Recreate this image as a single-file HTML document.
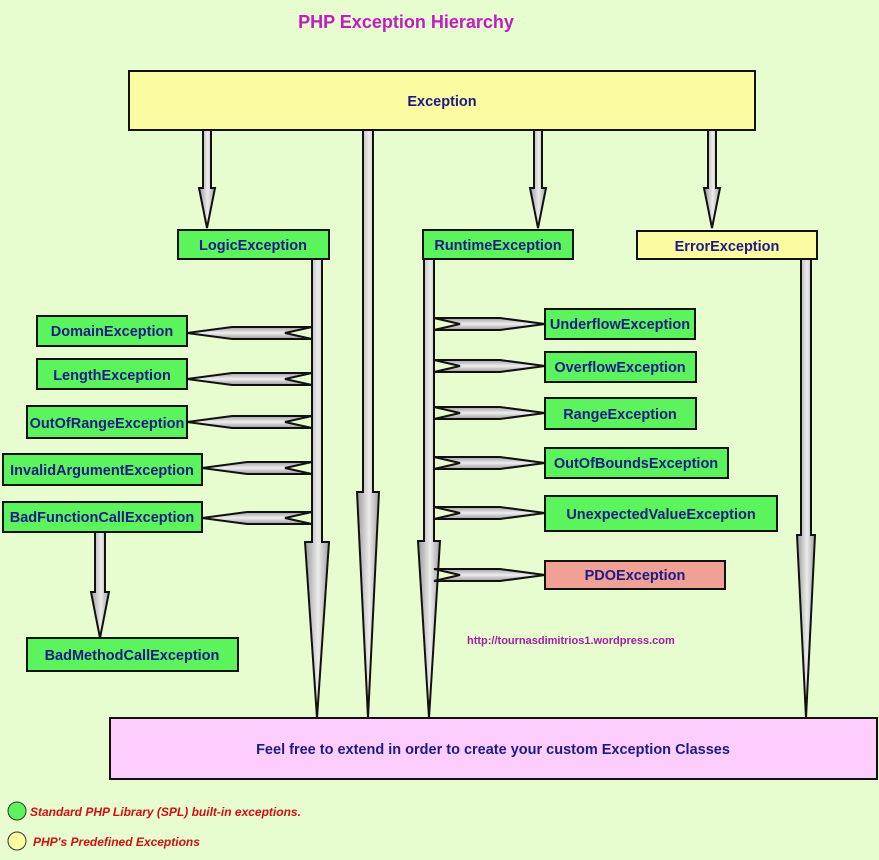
<!DOCTYPE html>
<html><head><meta charset="utf-8"><style>
html,body{margin:0;padding:0;background:#e8fdcf;}
svg{display:block;}
text{font-family:"Liberation Sans",sans-serif;font-weight:bold;}
</style></head><body>
<svg width="879" height="860" viewBox="0 0 879 860" xmlns="http://www.w3.org/2000/svg">
<defs>
<linearGradient id="gv" x1="0" y1="0" x2="1" y2="0"><stop offset="0" stop-color="#9a9a9a"/><stop offset="0.55" stop-color="#ececec"/><stop offset="1" stop-color="#a0a0a0"/></linearGradient>
<linearGradient id="gh" x1="0" y1="0" x2="0" y2="1"><stop offset="0" stop-color="#a0a0a0"/><stop offset="0.5" stop-color="#eeeeee"/><stop offset="1" stop-color="#9a9a9a"/></linearGradient>
</defs>
<rect width="879" height="860" fill="#e8fdcf"/>
<text x="406" y="28" text-anchor="middle" font-size="18" fill="#c01cc0">PHP Exception Hierarchy</text>

<g stroke="#111" stroke-width="2" fill="url(#gv)" stroke-linejoin="miter">
<polygon points="203,130 211,130 211,188 215,188 207,228 199,188 203,188"/>
<polygon points="363,130 373,130 373,492 379,492 368,718 357,492 363,492"/>
<polygon points="534,130 542,130 542,188 546,188 538,228 530,188 534,188"/>
<polygon points="708,130 716,130 716,188 720,188 712,228 704,188 708,188"/>
<polygon points="312,259 322,259 322,542 329,542 317,718 305,542 312,542"/>
<polygon points="424,259 434,259 434,541 440,541 429,718 418,541 424,541"/>
<polygon points="801,259 811,259 811,535 815,535 806,718 797,535 801,535"/>
<polygon points="95,532 105,532 105,592 109,592 100,638 91,592 95,592"/>
</g>
<g stroke="#111" stroke-width="2" fill="url(#gh)">
<polygon points="187,333 232,327 312,327 285,333 312,339 232,339"/>
<polygon points="187,379 232,373 312,373 285,379 312,385 232,385"/>
<polygon points="187,422 232,416 312,416 285,422 312,428 232,428"/>
<polygon points="202,468 247,462 312,462 285,468 312,474 247,474"/>
<polygon points="202,518 247,512 312,512 285,518 312,524 247,524"/>
<polygon points="434,318 500,318 545,324 500,330 434,330 460,324"/>
<polygon points="434,360 500,360 545,366 500,372 434,372 460,366"/>
<polygon points="434,407 500,407 545,413 500,419 434,419 460,413"/>
<polygon points="434,457 500,457 545,463 500,469 434,469 460,463"/>
<polygon points="434,507 500,507 545,513 500,519 434,519 460,513"/>
<polygon points="434,569 500,569 545,575 500,581 434,581 460,575"/>
</g>

<g stroke="#111" stroke-width="2">
<rect x="129" y="71" width="626" height="59" fill="#fbfba2"/>
<rect x="178" y="230" width="151" height="29" fill="#5cf45c"/>
<rect x="423" y="230" width="150" height="29" fill="#5cf45c"/>
<rect x="637" y="231" width="180" height="28" fill="#fbfba2"/>
<rect x="37" y="316" width="150" height="30" fill="#5cf45c"/>
<rect x="37" y="359" width="150" height="30" fill="#5cf45c"/>
<rect x="27" y="406" width="160" height="32" fill="#5cf45c"/>
<rect x="3" y="454" width="199" height="31" fill="#5cf45c"/>
<rect x="3" y="502" width="199" height="30" fill="#5cf45c"/>
<rect x="27" y="638" width="211" height="33" fill="#5cf45c"/>
<rect x="545" y="309" width="150" height="30" fill="#5cf45c"/>
<rect x="545" y="352" width="151" height="30" fill="#5cf45c"/>
<rect x="545" y="398" width="151" height="31" fill="#5cf45c"/>
<rect x="545" y="448" width="183" height="30" fill="#5cf45c"/>
<rect x="545" y="496" width="232" height="35" fill="#5cf45c"/>
<rect x="545" y="561" width="180" height="28" fill="#f0a094"/>
<rect x="110" y="718" width="767" height="61" fill="#fdcdfd"/>
</g>

<g font-size="14.5" fill="#1b1b86" text-anchor="middle">
<text x="442" y="106">Exception</text>
<text x="253" y="250">LogicException</text>
<text x="498" y="250">RuntimeException</text>
<text x="727" y="251">ErrorException</text>
<text x="112" y="336">DomainException</text>
<text x="112" y="380">LengthException</text>
<text x="107" y="428">OutOfRangeException</text>
<text x="102" y="475">InvalidArgumentException</text>
<text x="102" y="522">BadFunctionCallException</text>
<text x="132" y="660">BadMethodCallException</text>
<text x="620" y="329">UnderflowException</text>
<text x="620" y="372">OverflowException</text>
<text x="620" y="419">RangeException</text>
<text x="636" y="468">OutOfBoundsException</text>
<text x="661" y="519">UnexpectedValueException</text>
<text x="635" y="580">PDOException</text>
<text x="493" y="754">Feel free to extend in order to create your custom Exception Classes</text>
</g>
<text x="467" y="644" font-size="11" fill="#a020a0">http://tournasdimitrios1.wordpress.com</text>
<circle cx="17" cy="811" r="9" fill="#5cf45c" stroke="#333" stroke-width="1"/>
<circle cx="17" cy="841" r="9" fill="#fbfba2" stroke="#333" stroke-width="1"/>
<g font-size="12" fill="#d01010" font-style="italic">
<text x="30" y="816">Standard PHP Library (SPL) built-in exceptions.</text>
<text x="33" y="846">PHP's Predefined Exceptions</text>
</g>
</svg>
</body></html>
